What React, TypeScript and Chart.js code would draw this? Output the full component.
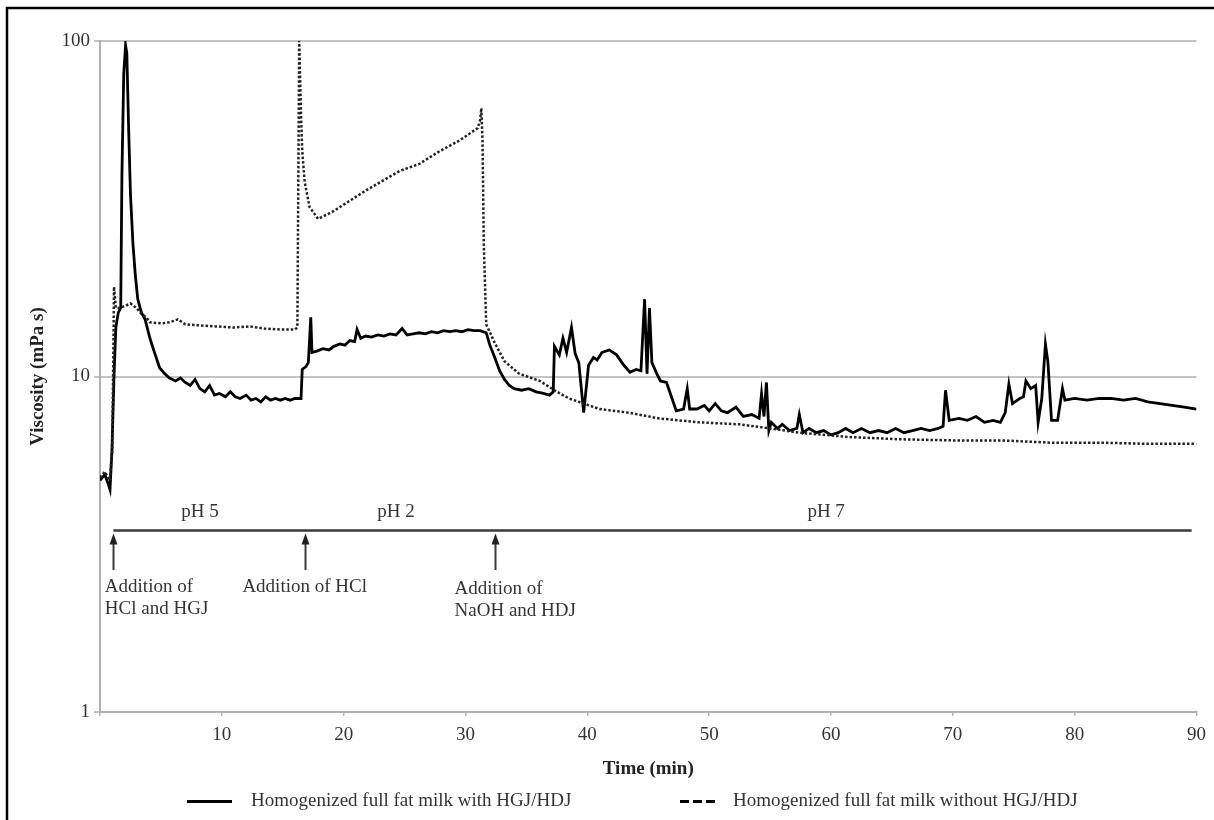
import React, { useEffect, useRef } from 'react';
import { Chart, registerables } from 'chart.js';

Chart.register(...registerables);

// ---- Data (time in min, viscosity in mPa s) ----
const solidTime = [
  0.0, 0.4, 0.66, 0.82, 0.98, 1.15, 1.3, 1.5, 1.7, 1.8, 1.95, 2.1, 2.2, 2.35, 2.5, 2.7, 2.9, 3.1, 3.4, 3.7,
  4.1, 4.4, 4.9, 5.3, 5.7, 6.2, 6.6, 7.0, 7.4, 7.8, 8.2, 8.6, 9.0, 9.4, 9.8, 10.3, 10.7, 11.1, 11.5, 12.0,
  12.4, 12.8, 13.2, 13.6, 14.0, 14.4, 14.8, 15.2, 15.6, 16.0, 16.5, 16.6, 16.9, 17.1, 17.3, 17.4, 17.8, 18.3, 18.8, 19.2,
  19.7, 20.1, 20.5, 20.9, 21.1, 21.4, 21.8, 22.3, 22.8, 23.3, 23.8, 24.3, 24.8, 25.2, 25.7, 26.2, 26.7, 27.2, 27.7, 28.2,
  28.7, 29.2, 29.7, 30.2, 30.7, 31.2, 31.7, 32.0, 32.4, 32.8, 33.2, 33.6, 34.0, 34.6, 35.2, 35.8, 36.4, 36.9, 37.2, 37.3,
  37.7, 38.0, 38.3, 38.7, 39.0, 39.3, 39.7, 40.1, 40.5, 40.8, 41.2, 41.8, 42.4, 43.0, 43.5, 44.0, 44.4, 44.7, 44.9, 45.1,
  45.3, 45.7, 46.0, 46.5, 47.0, 47.3, 47.9, 48.2, 48.4, 49.0, 49.6, 50.0, 50.5, 51.0, 51.5, 52.2, 52.8, 53.5, 54.1, 54.3,
  54.5, 54.7, 54.9, 55.1, 55.6, 56.0, 56.6, 57.2, 57.4, 57.7, 58.2, 58.8, 59.4, 60.0, 60.6, 61.2, 61.8, 62.5, 63.2, 63.9,
  64.6, 65.3, 66.0, 66.7, 67.4, 68.1, 68.8, 69.2, 69.4, 69.7, 70.5, 71.2, 71.9, 72.6, 73.3, 73.9, 74.3, 74.6, 74.9, 75.5,
  75.8, 76.0, 76.4, 76.8, 77.0, 77.3, 77.6, 77.8, 78.1, 78.6, 79.0, 79.2, 80.0, 81.0, 82.0, 83.0, 84.0, 85.0, 86.0, 87.0,
  88.0, 89.0, 90.0,
];
const solidVisc = [
  4.9, 5.1, 4.8, 4.6, 6.0, 10, 14, 15.5, 16, 40, 80, 97, 92, 55, 35, 25, 20, 17, 15.5, 14.8,
  13, 12, 10.6, 10.2, 9.9, 9.7, 9.9, 9.6, 9.4, 9.8, 9.2, 9.0, 9.4, 8.8, 8.9, 8.7, 9.0, 8.7, 8.6, 8.8,
  8.5, 8.6, 8.4, 8.7, 8.5, 8.6, 8.5, 8.6, 8.5, 8.6, 8.6, 10.5, 10.7, 11.0, 15.0, 11.8, 11.9, 12.1, 12.0, 12.3,
  12.5, 12.4, 12.8, 12.7, 13.8, 13.0, 13.2, 13.1, 13.3, 13.2, 13.4, 13.3, 13.9, 13.3, 13.4, 13.5, 13.4, 13.6, 13.5, 13.7,
  13.6, 13.7, 13.6, 13.8, 13.7, 13.7, 13.5, 12.4, 11.4, 10.4, 9.8, 9.4, 9.2, 9.1, 9.2, 9.0, 8.9, 8.8, 9.0, 12.3,
  11.6, 13.0, 11.8, 14.0, 11.7, 11.0, 7.8, 10.8, 11.4, 11.2, 11.8, 12.0, 11.6, 10.8, 10.3, 10.5, 10.4, 17.0, 10.2, 16.0,
  11.0, 10.2, 9.7, 9.6, 8.5, 7.9, 8.0, 9.2, 8.0, 8.0, 8.2, 7.9, 8.3, 7.9, 7.8, 8.1, 7.6, 7.7, 7.5, 8.9,
  7.6, 9.6, 6.9, 7.3, 7.0, 7.2, 6.9, 7.0, 7.7, 6.8, 7.0, 6.8, 6.9, 6.7, 6.8, 7.0, 6.8, 7.0, 6.8, 6.9,
  6.8, 7.0, 6.8, 6.9, 7.0, 6.9, 7.0, 7.1, 9.1, 7.4, 7.5, 7.4, 7.6, 7.3, 7.4, 7.3, 7.8, 9.5, 8.3, 8.6,
  8.7, 9.7, 9.2, 9.4, 7.3, 8.6, 12.5, 11.1, 7.4, 7.4, 9.2, 8.5, 8.6, 8.5, 8.6, 8.6, 8.5, 8.6, 8.4, 8.3,
  8.2, 8.1, 8.0,
];
const dashedTime = [
  0.0, 0.4, 0.8, 1.0, 1.1, 1.15, 1.3, 1.6, 2.0, 2.5, 3.0, 3.3, 3.8, 4.1, 5.0, 5.7, 6.4, 7.0, 8.2, 9.5,
  11.0, 12.3, 13.5, 14.8, 16.0, 16.2, 16.35, 16.5, 16.6, 16.8, 17.2, 17.9, 19.1, 21.9, 24.6, 26.2, 27.9, 29.5, 31.0, 31.2,
  31.3, 31.4, 31.5, 31.7, 32.4, 33.2, 34.4, 36.1, 37.3, 38.5, 41.0, 43.4, 45.9, 49.2, 52.5, 55.0, 57.4, 61.5, 65.6, 70.0,
  74.0, 78.0, 82.0, 86.0, 90.0,
];
const dashedVisc = [
  5.0, 5.2, 4.9, 6.0, 12, 18.5, 16, 16, 16.2, 16.5, 16, 15.5, 15, 14.5, 14.4, 14.5, 14.8, 14.3, 14.2, 14.1,
  14.0, 14.1, 13.9, 13.8, 13.8, 14, 100, 60, 47, 38, 32, 29.5, 31, 36, 41, 43, 47, 50.5, 55, 58,
  63, 50, 25, 14.3, 12.6, 11.1, 10.2, 9.7, 9.1, 8.6, 8.0, 7.8, 7.5, 7.3, 7.2, 7.0, 6.8, 6.6, 6.5, 6.45,
  6.45, 6.35, 6.35, 6.3, 6.3,
];

const xTickValues = [0, 10, 20, 30, 40, 50, 60, 70, 80, 90];
const yTickValues = [1, 10, 100];
const seriesLabels = [
  'Homogenized full fat milk with HGJ/HDJ',
  'Homogenized full fat milk without HGJ/HDJ',
];
const xTitle = 'Time (min)';
const yTitle = 'Viscosity (mPa s)';

const phLabels = ['pH 5', 'pH 2', 'pH 7'];
const phLabelTimes = [8.2, 24.3, 59.6];
const additionTimes = [1.1, 16.8, 32.4];
const additionTexts = [
  ['Addition of', 'HCl and HGJ'],
  ['Addition of HCl'],
  ['Addition of', 'NaOH and HDJ'],
];

const SERIF = '"Liberation Serif", "DejaVu Serif", serif';

const overlayPlugin = {
  id: 'overlay',
  beforeDraw(chart: any) {
    const ctx = chart.ctx;
    ctx.save();
    ctx.fillStyle = '#ffffff';
    ctx.fillRect(0, 0, chart.width, chart.height);
    ctx.restore();
  },
  afterDraw(chart: any) {
    const ctx = chart.ctx;
    const xs = chart.scales.x;
    const ys = chart.scales.y;
    ctx.save();

    // frame (top and left edges)
    ctx.strokeStyle = '#000';
    ctx.lineWidth = 2.5;
    ctx.beginPath();
    ctx.moveTo(7, chart.height);
    ctx.lineTo(7, 8);
    ctx.lineTo(chart.width, 8);
    ctx.stroke();

    // pH bar
    const barY = Math.round(ys.getPixelForValue(3.48)) + 0.5;
    ctx.strokeStyle = '#3a3a3a';
    ctx.lineWidth = 2.5;
    ctx.beginPath();
    ctx.moveTo(xs.getPixelForValue(additionTimes[0]), barY);
    ctx.lineTo(xs.getPixelForValue(89.6), barY);
    ctx.stroke();

    // arrows
    const arrowBase = ys.getPixelForValue(2.65);
    ctx.fillStyle = '#222';
    ctx.lineWidth = 2;
    additionTimes.forEach((t) => {
      const px = Math.round(xs.getPixelForValue(t)) + 0.5;
      ctx.beginPath();
      ctx.moveTo(px, arrowBase);
      ctx.lineTo(px, barY + 8);
      ctx.stroke();
      ctx.beginPath();
      ctx.moveTo(px, barY + 3);
      ctx.lineTo(px - 4, barY + 14);
      ctx.lineTo(px + 4, barY + 14);
      ctx.closePath();
      ctx.fill();
    });

    // pH labels
    ctx.fillStyle = '#333';
    ctx.font = `19px ${SERIF}`;
    ctx.textAlign = 'center';
    ctx.textBaseline = 'middle';
    const phY = ys.getPixelForValue(3.95);
    phLabels.forEach((l, i) => {
      ctx.fillText(l, xs.getPixelForValue(phLabelTimes[i]), phY);
    });

    // addition texts
    const l1 = ys.getPixelForValue(2.36);
    const l2 = ys.getPixelForValue(2.03);
    ctx.textAlign = 'left';
    ctx.fillText(additionTexts[0][0], xs.getPixelForValue(0.4), l1);
    ctx.fillText(additionTexts[0][1], xs.getPixelForValue(0.4), l2);
    ctx.textAlign = 'center';
    ctx.fillText(additionTexts[1][0], xs.getPixelForValue(additionTimes[1]), l1);
    ctx.textAlign = 'left';
    ctx.fillText(additionTexts[2][0], xs.getPixelForValue(29.1), l1 + 2);
    ctx.fillText(additionTexts[2][1], xs.getPixelForValue(29.1), l2 + 2);

    // legend
    const legY = 801.5;
    ctx.strokeStyle = '#000';
    ctx.lineWidth = 3;
    ctx.setLineDash([]);
    ctx.beginPath();
    ctx.moveTo(187, legY);
    ctx.lineTo(232, legY);
    ctx.stroke();
    ctx.setLineDash([9, 4]);
    ctx.beginPath();
    ctx.moveTo(680, legY);
    ctx.lineTo(719, legY);
    ctx.stroke();
    ctx.setLineDash([]);
    ctx.fillStyle = '#333';
    ctx.font = `19px ${SERIF}`;
    ctx.textAlign = 'left';
    ctx.textBaseline = 'middle';
    ctx.fillText(seriesLabels[0], 251, legY);
    ctx.fillText(seriesLabels[1], 733, legY);

    ctx.restore();
  },
};

export default function App() {
  const ref = useRef<HTMLCanvasElement | null>(null);
  useEffect(() => {
    if (!ref.current) return;
    const chart = new Chart(ref.current, {
      type: 'line',
      data: {
        datasets: [
          {
            label: seriesLabels[1],
            data: dashedTime.map((t, i) => ({ x: t, y: dashedVisc[i] })),
            borderColor: '#222',
            borderWidth: 2.5,
            borderDash: [2.5, 2],
            pointRadius: 0,
            tension: 0,
            fill: false,
          },
          {
            label: seriesLabels[0],
            data: solidTime.map((t, i) => ({ x: t, y: solidVisc[i] })),
            borderColor: '#000',
            borderWidth: 2.8,
            pointRadius: 0,
            tension: 0,
            fill: false,
          },
        ],
      },
      options: {
        responsive: false,
        animation: false,
        layout: { padding: { left: 0, top: 41, right: 17, bottom: 0 } },
        plugins: { legend: { display: false }, tooltip: { enabled: false } },
        scales: {
          x: {
            type: 'linear',
            min: 0,
            max: 90,
            afterFit: (s: any) => { s.height = 108; },
            afterBuildTicks: (s: any) => { s.ticks = xTickValues.map((v) => ({ value: v })); },
            grid: {
              drawOnChartArea: false,
              drawTicks: true,
              tickLength: 4,
              color: '#b5b5b5',
              lineWidth: 1.5,
            },
            border: { color: '#b0b0b0', width: 2 },
            ticks: {
              color: '#333',
              font: { family: SERIF, size: 19 },
              padding: 8,
              maxRotation: 0,
              callback: (v: any) => (v === 0 ? '' : String(v)),
            },
            title: {
              display: true,
              text: xTitle,
              color: '#222',
              font: { family: SERIF, size: 19, weight: 'bold' },
              padding: { top: 0, bottom: 40 },
            },
          },
          y: {
            type: 'logarithmic',
            min: 1,
            max: 100,
            afterFit: (s: any) => { s.width = 100; },
            afterBuildTicks: (s: any) => { s.ticks = yTickValues.map((v) => ({ value: v })); },
            grid: {
              color: '#c4c4c4',
              lineWidth: 2,
              tickLength: 6,
            },
            border: { color: '#b0b0b0', width: 2 },
            ticks: {
              color: '#333',
              font: { family: SERIF, size: 19 },
              padding: 4,
              callback: (v: any) => String(v),
            },
            title: {
              display: true,
              text: yTitle,
              color: '#222',
              font: { family: SERIF, size: 19, weight: 'bold' },
              padding: { top: 27, bottom: 0 },
            },
          },
        },
      },
      plugins: [overlayPlugin],
    } as any);
    return () => chart.destroy();
  }, []);
  return (
    <div style={{ position: 'absolute', left: 0, top: 0, width: 1214, height: 820 }}>
      <canvas ref={ref} width={1214} height={820} style={{ width: 1214, height: 820, display: 'block' }} />
    </div>
  );
}
